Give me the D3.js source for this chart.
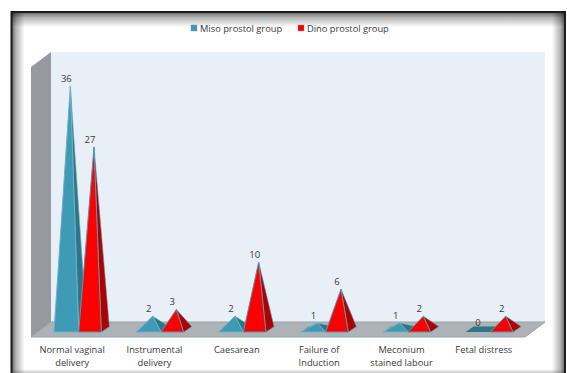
<!DOCTYPE html>
<html>
<head>
<meta charset="utf-8">
<script src="https://cdnjs.cloudflare.com/ajax/libs/d3/7.8.5/d3.min.js"></script>
<style>
html,body{margin:0;padding:0;background:#fff;overflow:hidden;}
svg{display:block;}
text{font-family:"Open Sans","DejaVu Sans",sans-serif;fill:#3a3a3a;}
</style>
</head>
<body>
<svg id="chart" width="567" height="373"></svg>
<script>
const categories = [
  ["Normal vaginal", "delivery"],
  ["Instrumental", "delivery"],
  ["Caesarean"],
  ["Failure of", "Induction"],
  ["Meconium", "stained labour"],
  ["Fetal distress"]
];
const seriesNames = ["Miso prostol group", "Dino prostol group"];
const misoValues = [36, 2, 2, 1, 1, 0];
const dinoValues = [27, 3, 10, 6, 2, 2];

const svg = d3.select("#chart");
const defs = svg.append("defs");

// Picture frame: dark rule on three sides with a soft shadow fading inwards
const frame = {l: 11.5, t: 12, r: 565, b: 378};
const shadow = {l: 13, r: 13, t: 15, b: 9};
[
  ["fl", 0, 0, 1, 0], ["fr", 1, 0, 0, 0], ["ft", 0, 0, 0, 1], ["fb", 0, 1, 0, 0]
].forEach(([id, x1, y1, x2, y2]) => {
  const g = defs.append("linearGradient").attr("id", id)
    .attr("x1", x1).attr("y1", y1).attr("x2", x2).attr("y2", y2);
  g.append("stop").attr("offset", 0).attr("stop-color", "#000").attr("stop-opacity", 0.62);
  g.append("stop").attr("offset", 0.35).attr("stop-color", "#000").attr("stop-opacity", 0.3);
  g.append("stop").attr("offset", 1).attr("stop-color", "#000").attr("stop-opacity", 0);
});
const w = frame.r - frame.l, h = frame.b - frame.t;
svg.append("rect").attr("x", frame.l).attr("y", frame.t).attr("width", shadow.l)
  .attr("height", h).attr("fill", "url(#fl)");
svg.append("rect").attr("x", frame.r - shadow.r).attr("y", frame.t).attr("width", shadow.r)
  .attr("height", h).attr("fill", "url(#fr)");
svg.append("rect").attr("x", frame.l).attr("y", frame.t).attr("width", w)
  .attr("height", shadow.t).attr("fill", "url(#ft)");
svg.append("rect").attr("x", frame.l).attr("y", frame.b - shadow.b).attr("width", w)
  .attr("height", shadow.b).attr("fill", "url(#fb)");
svg.append("rect").attr("x", frame.l).attr("y", frame.t).attr("width", w).attr("height", h)
  .attr("fill", "none").attr("stroke", "#1c1c1c").attr("stroke-width", 2);

// 3D box behind the pyramids
const plot = {left: 31, right: 525, floorFront: 337, floorBack: 322, top: 52, depthX: 20, depthY: 15};
const poly = pts => pts.map(p => p.join(",")).join(" ");
svg.append("polygon").attr("fill", "#e8eff6").attr("points", poly([
  [plot.left + plot.depthX, plot.top], [plot.right + plot.depthX, plot.top],
  [plot.right + plot.depthX, plot.floorBack], [plot.left + plot.depthX, plot.floorBack]
]));
svg.append("polygon").attr("fill", "#96999d").attr("points", poly([
  [plot.left, plot.top + plot.depthY], [plot.left + plot.depthX, plot.top],
  [plot.left + plot.depthX, plot.floorBack], [plot.left, plot.floorFront]
]));
svg.append("polygon").attr("fill", "#adb2b6").attr("stroke", "#9da2a6").attr("points", poly([
  [plot.left, plot.floorFront], [plot.left + plot.depthX, plot.floorBack],
  [plot.right + plot.depthX, plot.floorBack], [plot.right, plot.floorFront]
]));

// Scales
const x = d3.scaleBand().domain(d3.range(categories.length)).range([plot.left, plot.right]);
const y = d3.scaleLinear().domain([0, 36]).range([329.7, 86]);

const baseFront = 332;
const side = {dx: 8, dy: 5.5};
const seriesStyle = [
  {values: misoValues, offset: 23, width: 24.7, front: "#3f9ab5", flank: "#2f7488", edge: "#6fb0c4"},
  {values: dinoValues, offset: 47.7, width: 22.6, front: "#ff0000", flank: "#b00000", edge: "#4f9ab3"}
];

// One pyramid per value: footprint, then right flank and front face when it has height
seriesStyle.forEach(s => {
  const g = svg.append("g");
  s.values.forEach((v, i) => {
    const x0 = x(i) + s.offset, x1 = x0 + s.width;
    const ax = (x0 + x1) / 2 + side.dx / 2;
    const ay = y(v);
    g.append("polygon").attr("fill", "#2f7488").attr("points", poly([
      [x0, baseFront], [x1, baseFront],
      [x1 + side.dx, baseFront - side.dy], [x0 + side.dx, baseFront - side.dy]
    ]));
    if (v > 0) {
      g.append("polygon").attr("fill", s.flank).attr("stroke", s.edge).attr("stroke-width", 0.6)
        .attr("points", poly([[x1, baseFront], [x1 + side.dx, baseFront - side.dy], [ax, ay]]));
      g.append("polygon").attr("fill", s.front).attr("stroke", s.edge).attr("stroke-width", 1)
        .attr("points", poly([[x0, baseFront], [x1, baseFront], [ax, ay]]));
    }
    svg.append("text").attr("x", ax - 4).attr("y", ay - 4)
      .attr("text-anchor", "middle").attr("font-size", 9.5).text(v);
  });
});

// Category labels
categories.forEach((lines, i) => {
  lines.forEach((line, k) => {
    svg.append("text").attr("x", x(i) + x.bandwidth() / 2).attr("y", 353 + k * 13.3)
      .attr("text-anchor", "middle").attr("font-size", 9.3).text(line);
  });
});

// Legend
const legendX = [191, 298];
seriesNames.forEach((name, i) => {
  svg.append("rect").attr("x", legendX[i]).attr("y", 25).attr("width", 6).attr("height", 6)
    .attr("fill", seriesStyle[i].front).attr("stroke", "#6d8fa0").attr("stroke-width", 0.4);
  svg.append("text").attr("x", legendX[i] + 9).attr("y", 32)
    .attr("font-size", 9.3).text(name);
});
</script>
</body>
</html>
